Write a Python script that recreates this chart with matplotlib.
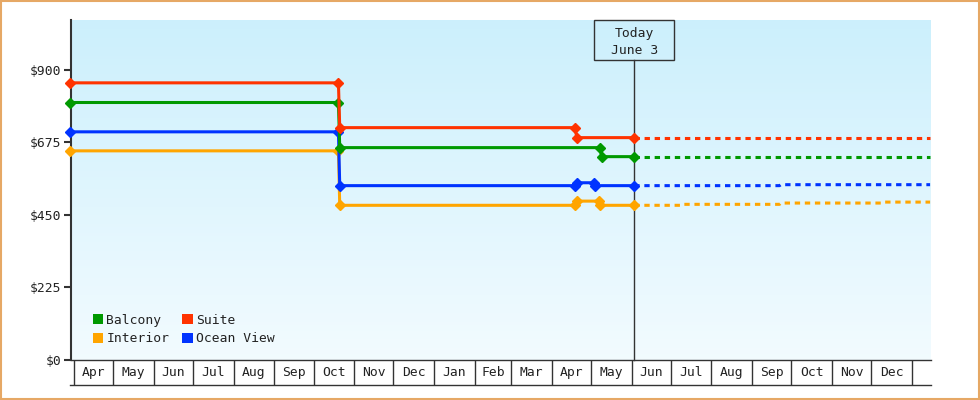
import matplotlib
matplotlib.use("Agg")
import matplotlib.pyplot as plt
import matplotlib.dates as mdates
import numpy as np
import pandas as pd
from matplotlib.patches import Rectangle, Patch

# price history (solid) per cabin type
suite_dates = ["2012-03-29", "2012-10-20", "2012-10-21", "2013-04-19", "2013-04-20", "2013-06-03"]
suite_prices = [860, 860, 721, 721, 690, 690]
balcony_dates = ["2012-03-29", "2012-10-20", "2012-10-21", "2013-05-08", "2013-05-09", "2013-06-03"]
balcony_prices = [799, 799, 659, 659, 631, 631]
ocean_dates = ["2012-03-29", "2012-10-20", "2012-10-21", "2013-04-19", "2013-04-20",
               "2013-05-03", "2013-05-04", "2013-06-03"]
ocean_prices = [708, 708, 541, 541, 550, 550, 541, 541]
interior_dates = ["2012-03-29", "2012-10-20", "2012-10-21", "2013-04-19", "2013-04-20",
                  "2013-05-07", "2013-05-08", "2013-06-03"]
interior_prices = [649, 649, 480, 480, 493, 493, 480, 480]

# projected prices (dashed)
suite_fc_dates = ["2013-06-03", "2014-01-15"]
suite_fc_prices = [690, 690]
balcony_fc_dates = ["2013-06-03", "2014-01-15"]
balcony_fc_prices = [631, 631]
ocean_fc_dates = ["2013-06-03", "2013-09-22", "2013-09-23", "2014-01-15"]
ocean_fc_prices = [541, 541, 544, 544]
interior_fc_dates = ["2013-06-03", "2013-07-09", "2013-07-10", "2013-09-22", "2013-09-23",
                     "2013-12-09", "2013-12-10", "2014-01-15"]
interior_fc_prices = [480, 480, 483, 483, 487, 487, 490, 490]

today = "2013-06-03"
today_label = "Today\nJune 3"
yticks = [0, 225, 450, 675, 900]
ytick_labels = ["$0", "$225", "$450", "$675", "$900"]

colors = {"Balcony": "#009900", "Suite": "#ff3300", "Interior": "#ffa500", "Ocean View": "#0033ff"}
dark = "#333333"
font = "DejaVu Sans Mono"
fs = 9.4

fig = plt.figure(figsize=(9.8, 4.0), dpi=100)
ax = fig.add_axes([71 / 980, 40 / 400, 860 / 980, 340 / 400])

x0 = mdates.date2num(pd.Timestamp("2012-04-01")) - 2.3
x1 = mdates.date2num(pd.Timestamp("2012-04-01")) + 654.7
ymax = 1055

# gradient background, light blue at the top fading to near white
grad = np.linspace(0, 1, 256).reshape(-1, 1)
top = np.array([0.80, 0.94, 0.99])
bot = np.array([0.95, 0.985, 1.0])
img = top + (bot - top) * grad[:, :, None]
ax.imshow(img, extent=[x0, x1, 0, ymax], aspect="auto", zorder=0, origin="upper")
ax.set_xlim(x0, x1)
ax.set_ylim(0, ymax)

series = [
    ("Interior", interior_dates, interior_prices, interior_fc_dates, interior_fc_prices),
    ("Ocean View", ocean_dates, ocean_prices, ocean_fc_dates, ocean_fc_prices),
    ("Balcony", balcony_dates, balcony_prices, balcony_fc_dates, balcony_fc_prices),
    ("Suite", suite_dates, suite_prices, suite_fc_dates, suite_fc_prices),
]
for name, d, p, fd, fp in series:
    c = colors[name]
    ax.plot(pd.to_datetime(fd), fp, color=c, lw=2.2, linestyle=(0, (1.75, 1.55)),
            zorder=3, clip_on=False)
    ax.plot(pd.to_datetime(d), p, color=c, lw=2.2, marker="D", ms=5.0, mec=c,
            zorder=4, clip_on=False, solid_joinstyle="miter")

# today marker
tx = mdates.date2num(pd.Timestamp(today))
box_bottom = (360 - 60.3) / 340
ax.plot([tx, tx], [0, box_bottom], transform=ax.get_xaxis_transform(), color=dark,
        lw=1, zorder=2, clip_on=False)
half = 40 / 1.309
ax.add_patch(Rectangle((tx - half, box_bottom), 2 * half, 1 - box_bottom,
                       transform=ax.get_xaxis_transform(), fill=False, ec=dark, lw=1,
                       clip_on=False, zorder=5))
ax.text(tx, (box_bottom + 1) / 2 - 0.004, today_label, transform=ax.get_xaxis_transform(),
        ha="center", va="center", fontsize=fs, family=font, color="#222222",
        linespacing=1.4, zorder=6)

# axes styling
for s in ["top", "right"]:
    ax.spines[s].set_visible(False)
ax.spines["left"].set_color(dark)
ax.spines["left"].set_linewidth(1.5)
ax.spines["bottom"].set_color(dark)
ax.spines["bottom"].set_linewidth(1.0)
ax.set_yticks(yticks)
ax.set_yticklabels(ytick_labels, family=font, fontsize=fs, color="#222222")
ax.tick_params(axis="y", length=4.8, width=1.5, color=dark, pad=1.9)
ax.set_xticks([])

# month cells under the axis
cell_h = 25 / 340
bounds = pd.date_range("2012-04-01", "2014-01-01", freq="MS")
ax.vlines(mdates.date2num(bounds), -cell_h, 0, transform=ax.get_xaxis_transform(),
          color=dark, lw=1, clip_on=False)
ax.plot([x0 - 1.0, x1], [-cell_h, -cell_h], transform=ax.get_xaxis_transform(),
        color=dark, lw=1, clip_on=False)
for a, b in zip(bounds[:-1], bounds[1:]):
    mid = (mdates.date2num(a) + mdates.date2num(b)) / 2
    ax.text(mid, -cell_h / 2, a.strftime("%b"), transform=ax.get_xaxis_transform(),
            ha="center", va="center", fontsize=fs, family=font, color="#222222")

# legend
order = ["Balcony", "Interior", "Suite", "Ocean View"]
handles = [Patch(facecolor=colors[n], edgecolor="none") for n in order]
leg = ax.legend(handles, order, ncol=2, loc="lower left", bbox_to_anchor=(0.0145, 0.016),
                frameon=False, handlelength=0.8, handleheight=0.85, handletextpad=0.25,
                columnspacing=1.0, labelspacing=0.45, borderaxespad=0.3,
                prop={"family": font, "size": fs})
for t in leg.get_texts():
    t.set_color("#222222")

# outer border
fig.patches.append(Rectangle((0.001, 0.002), 0.998, 0.996, transform=fig.transFigure,
                             fill=False, ec="#e6a865", lw=1.5))

fig.savefig("out.png", dpi=100)
